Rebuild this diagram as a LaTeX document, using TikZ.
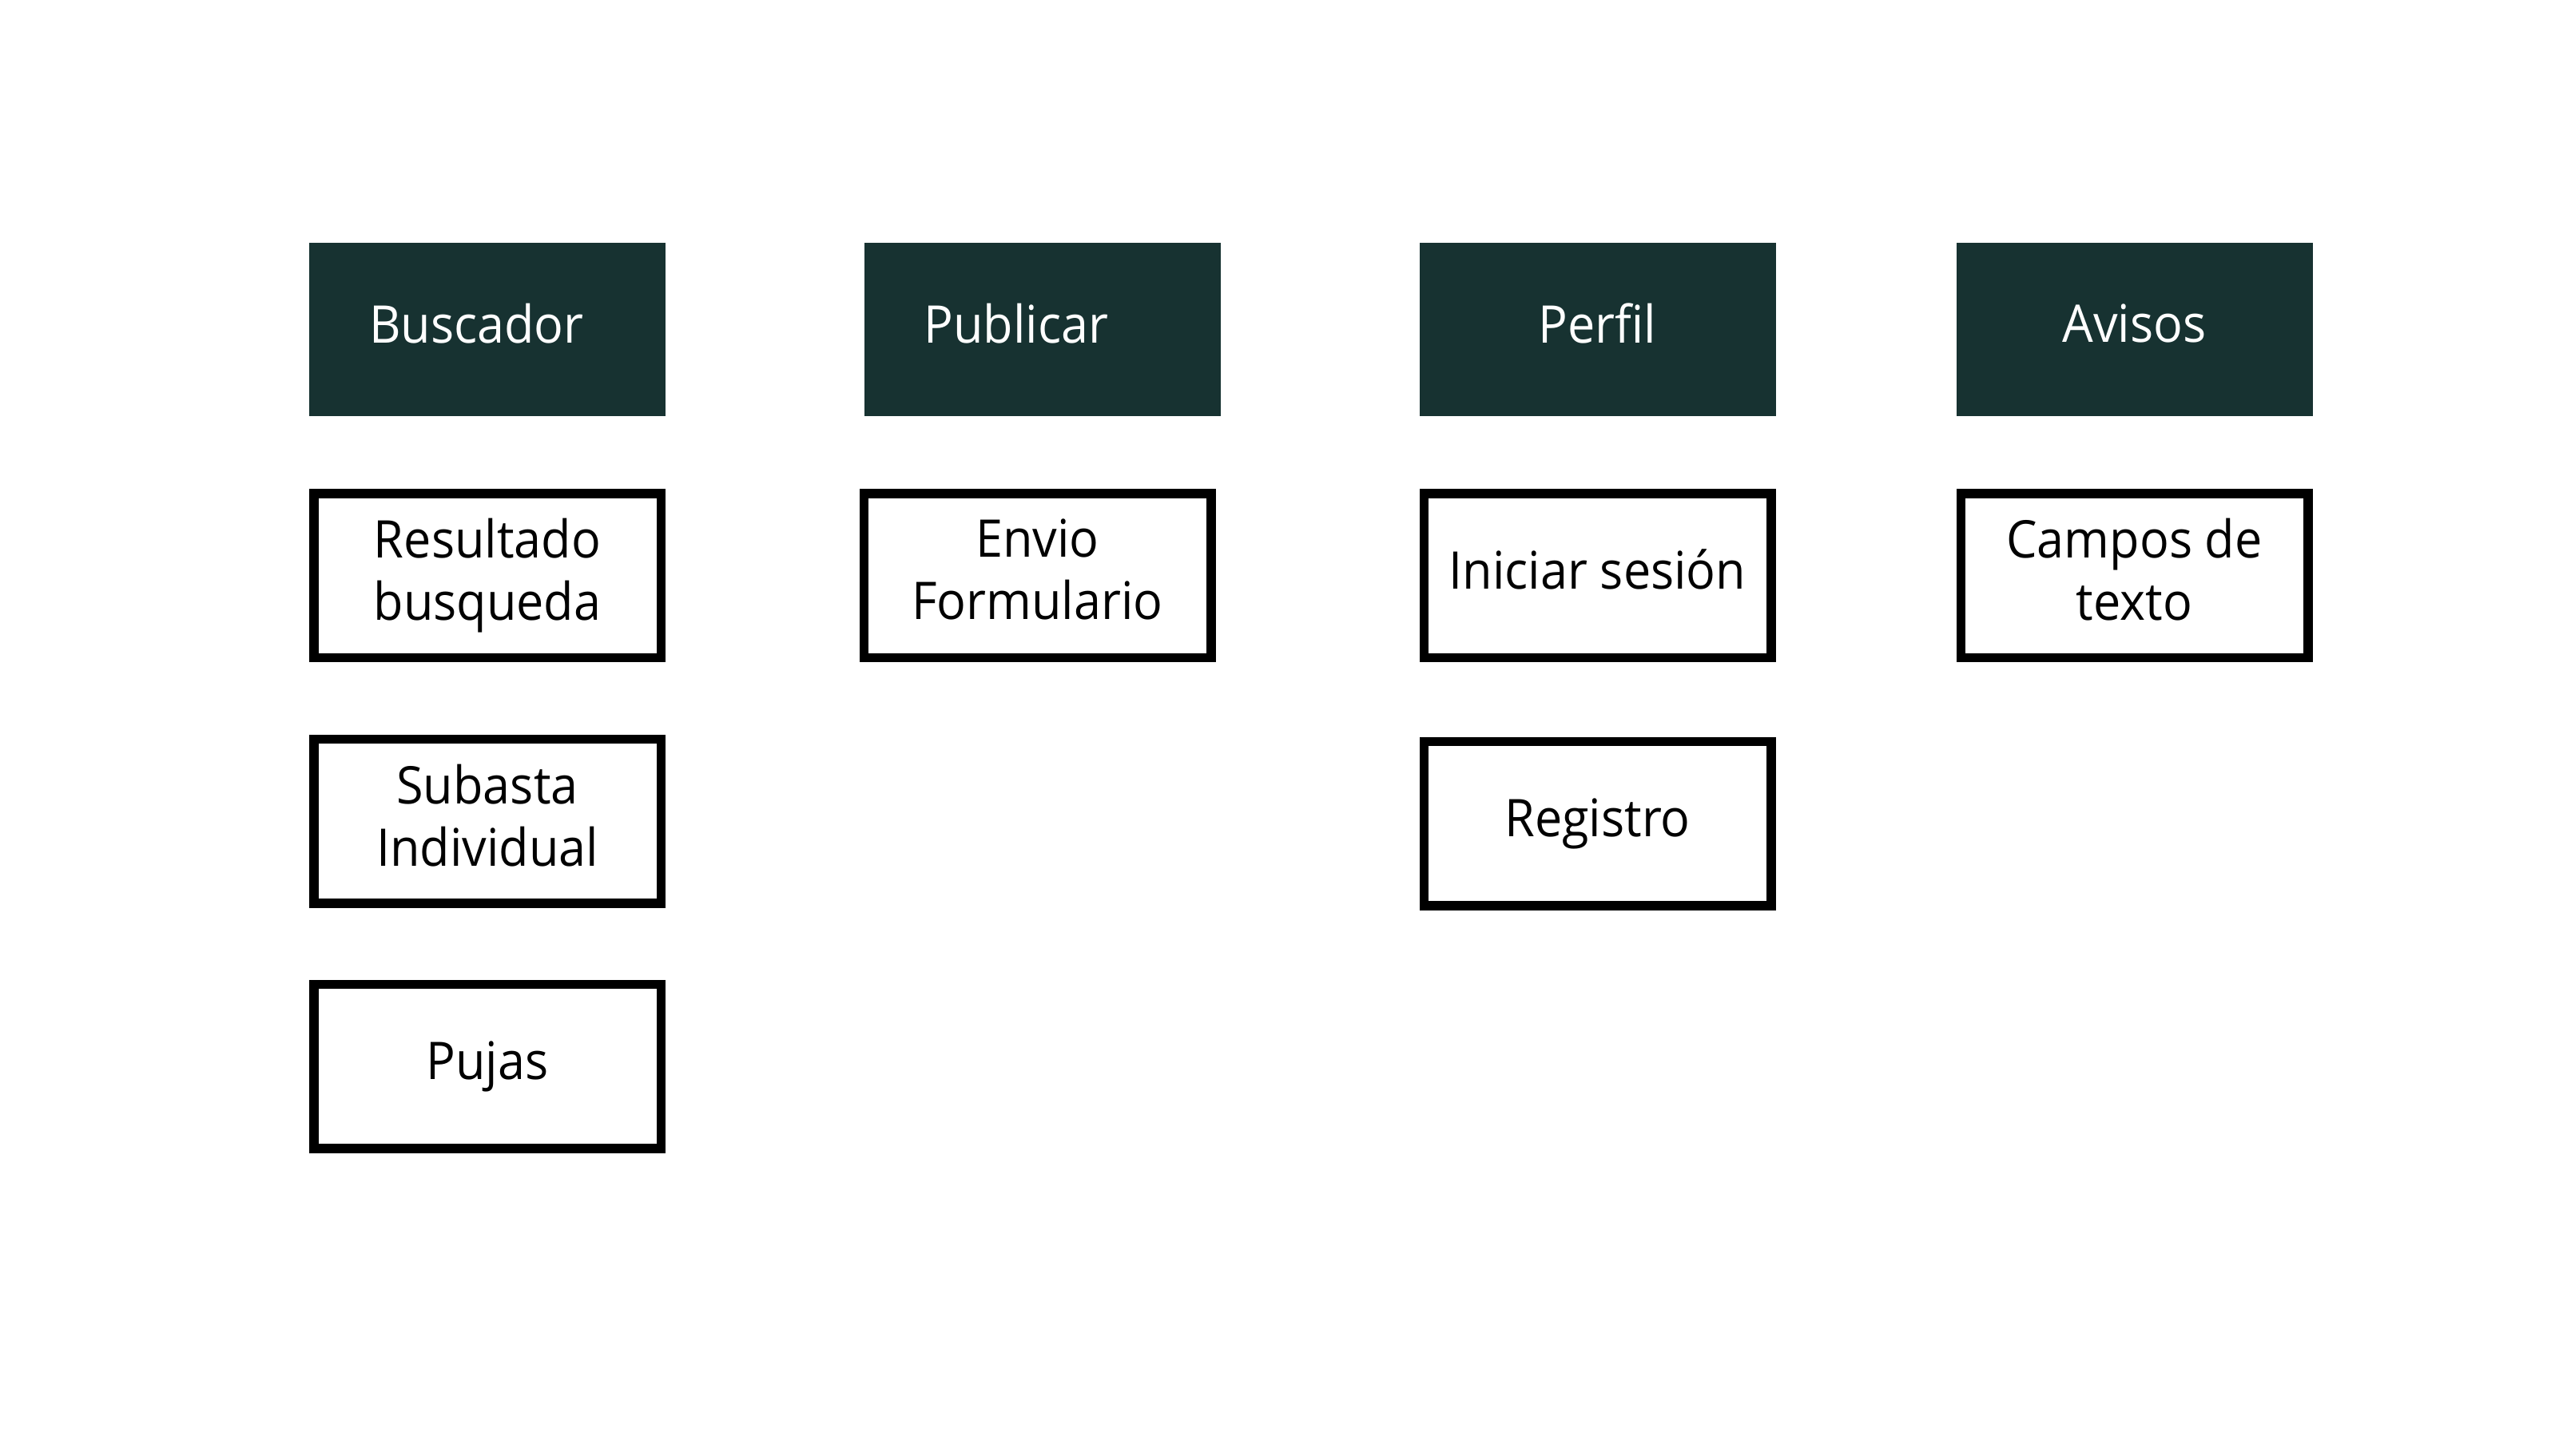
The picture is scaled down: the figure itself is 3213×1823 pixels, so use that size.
\documentclass[tikz,border=0pt]{standalone}
\usepackage{fontspec}
\setmainfont[FakeStretch=0.94]{Open Sans}
\definecolor{headfill}{RGB}{23,50,49}
\newcommand\ls{\rule[-15pt]{0pt}{51pt}}
\begin{document}
\begin{tikzpicture}[x=1pt,y=-1pt,
  headbox/.style={rectangle, fill=headfill, text=white, minimum width=446pt, minimum height=217pt, inner sep=0pt, font=\fontsize{65}{78}\selectfont, align=center},
  headleft/.style={headbox, text width=296pt, inner xsep=75pt, align=left},
  itembox/.style={rectangle, draw=black, line width=11.5pt, minimum width=434.5pt, minimum height=205.5pt, inner sep=0pt, font=\fontsize{65}{78}\selectfont, align=center}]
\useasboundingbox (0,0) rectangle (3213,1823);
\fill[white] (0,0) rectangle (3213,1823);
\node[headleft] (buscador) at (610,412.5) {\ls Buscador};
\node[headleft] (publicar) at (1304.5,412.5) {\ls Publicar};
\node[headbox] (perfil) at (1999.5,412.5) {\ls Perfil};
\node[headbox] (avisos) at (2671.5,412.5) {\ls Avisos};
\node[itembox] (resultado) at (610,720.5) {\ls Resultado\\\ls busqueda};
\node[itembox] (subasta) at (610,1028) {\ls Subasta\\\ls Individual};
\node[itembox] (pujas) at (610,1335) {\ls Pujas};
\node[itembox] (envio) at (1298.5,720.5) {\ls Envio\\\ls Formulario};
\node[itembox] (iniciar) at (1999.5,720.5) {\ls Iniciar sesión};
\node[itembox] (registro) at (1999.5,1031) {\ls Registro};
\node[itembox] (campos) at (2671.5,720.5) {\ls Campos de\\\ls texto};
\end{tikzpicture}
\end{document}
